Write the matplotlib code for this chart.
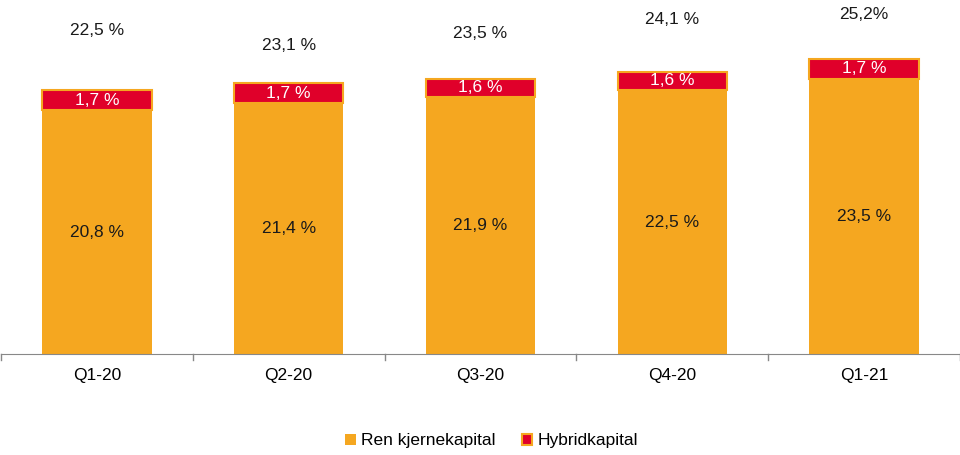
import numpy as np
import matplotlib.pyplot as plt

plt.rcParams['font.family'] = ['Liberation Sans', 'DejaVu Sans']

quarters = ['Q1-20', 'Q2-20', 'Q3-20', 'Q4-20', 'Q1-21']
ren_kjerne = [20.8, 21.4, 21.9, 22.5, 23.5]
hybrid = [1.7, 1.7, 1.6, 1.6, 1.7]
total_labels = ['22,5 %', '23,1 %', '23,5 %', '24,1 %', '25,2%']
# hidden series carrying the total labels (as in the source chart)
total_marker = [27.6, 26.3, 27.3, 28.5, 29.0]

orange = '#F5A720'
red = '#E0002A'
fs = 12.5

fig = plt.figure(figsize=(9.6, 4.55), dpi=100)
ax = fig.add_axes([0.001, (455 - 354) / 455, 0.999, 354 / 455])

x = np.arange(len(quarters))
w = 0.57
ax.bar(x, ren_kjerne, w, color=orange, label='Ren kjernekapital', zorder=2)
ax.bar(x, hybrid, w, bottom=ren_kjerne, color=red, edgecolor=orange,
       linewidth=1.5, label='Hybridkapital', zorder=2)

for i in range(len(quarters)):
    ax.text(x[i], ren_kjerne[i] / 2, f'{ren_kjerne[i]:.1f} %'.replace('.', ','),
            ha='center', va='center', fontsize=fs, color='#1a1a1a')
    ax.text(x[i], ren_kjerne[i] + hybrid[i] / 2, f'{hybrid[i]:.1f} %'.replace('.', ','),
            ha='center', va='center', fontsize=fs, color='white')
    ax.text(x[i], total_marker[i], total_labels[i], ha='center', va='center',
            fontsize=fs, color='#1a1a1a')

ax.set_xlim(-0.5, len(quarters) - 0.5)
ax.set_ylim(0, 30.2)
ax.set_yticks([])
ax.set_xticks(x)
ax.set_xticklabels(quarters, fontsize=fs)
ax.tick_params(axis='x', length=0, pad=10)
# category separators on the axis
for b in np.arange(-0.5, len(quarters), 1.0):
    ax.plot([b, b], [0, -0.5], color='#888888', lw=1, clip_on=False)
for s in ['top', 'right', 'left']:
    ax.spines[s].set_visible(False)
ax.spines['bottom'].set_color('#888888')

handles, labels = ax.get_legend_handles_labels()
fig.legend(handles, labels, loc='center', bbox_to_anchor=(0.512, 14 / 455), ncol=2,
           frameon=False, fontsize=fs, handlelength=0.6, handleheight=0.6,
           handletextpad=0.3, columnspacing=1.5)

fig.savefig('out.png', dpi=100)
